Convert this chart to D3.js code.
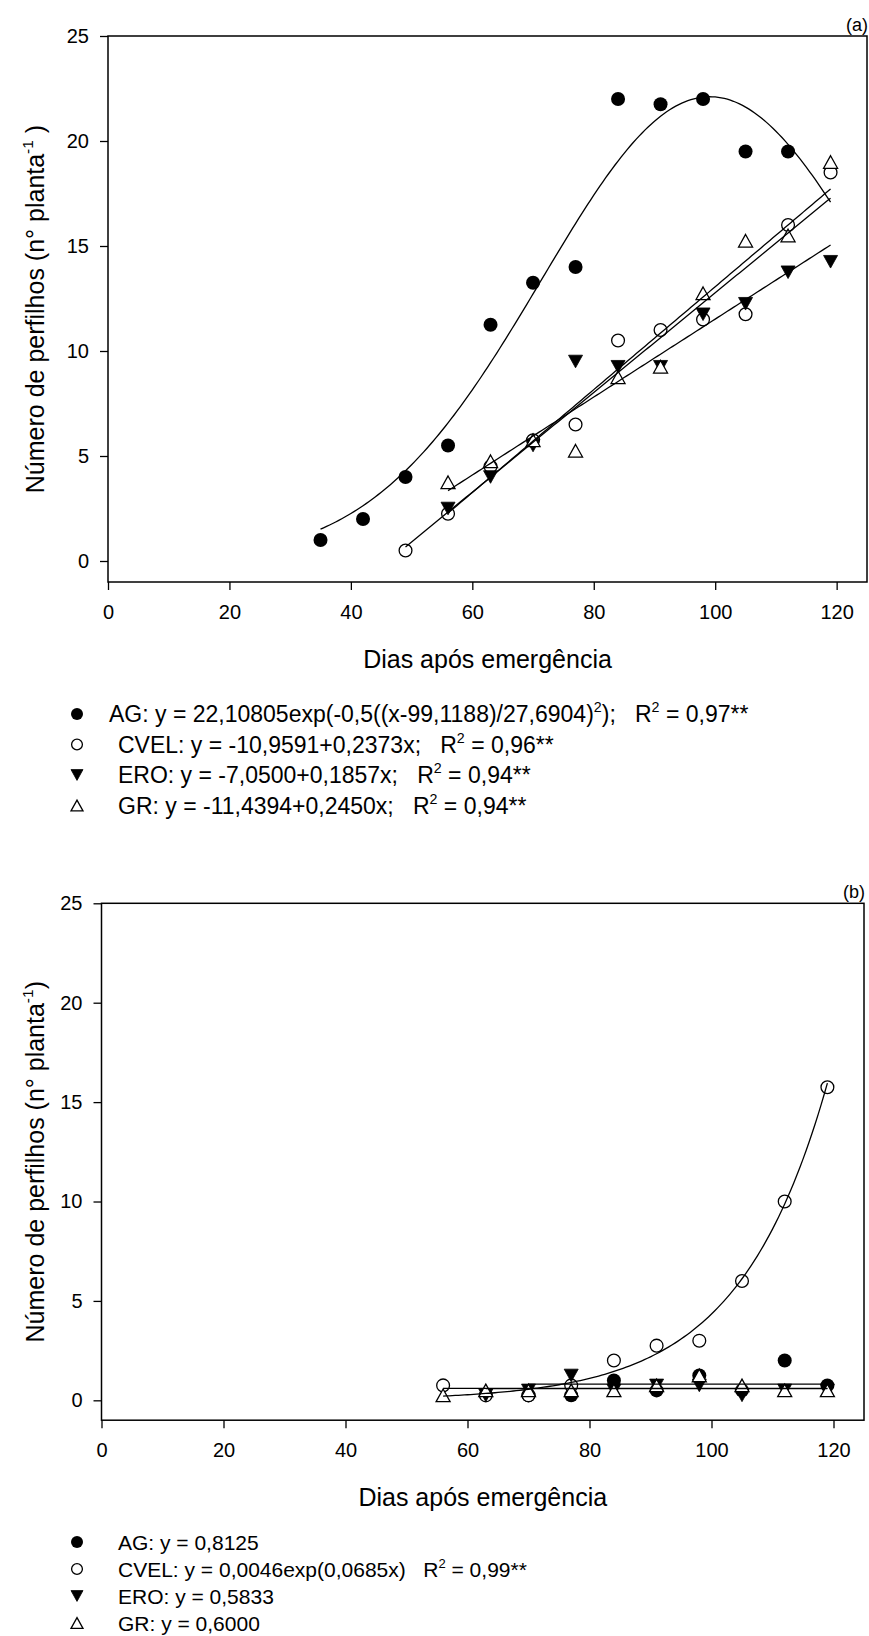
<!DOCTYPE html>
<html>
<head>
<meta charset="utf-8">
<script src="https://cdn.jsdelivr.net/npm/d3@7"></script>
<style>
  body { margin: 0; background: #fff; }
  svg { display: block; }
  text { font-family: "Liberation Sans", Arial, sans-serif; fill: #000; white-space: pre; }
</style>
</head>
<body>
<svg width="869" height="1636"></svg>
<script>
// ---- panel (a) data
var daysA = [35, 42, 49, 56, 63, 70, 77, 84, 91, 98, 105, 112, 119];
var agA   = [1, 2, 4, 5.5, 11.25, 13.25, 14, 22, 21.75, 22, 19.5, 19.5, null];
var cvelA = [null, null, 0.5, 2.25, 4.5, 5.75, 6.5, 10.5, 11, 11.5, 11.75, 16, 18.5];
var eroA  = [null, null, null, 2.5, 4, 5.5, 9.5, 9.25, 9.25, 11.75, 12.25, 13.75, 14.25];
var grA   = [null, null, null, 3.75, 4.75, 5.75, 5.25, 8.75, 9.25, 12.75, 15.25, 15.5, 19];

// ---- panel (b) data
var daysB = [56, 63, 70, 77, 84, 91, 98, 105, 112, 119];
var agB   = [null, null, 0.25, 0.25, 1, 0.5, 1.25, 0.5, 2, 0.75];
var cvelB = [0.75, 0.25, 0.25, 0.75, 2, 2.75, 3, 6, 10, 15.75];
var eroB  = [null, 0.25, 0.5, 1.25, 0.5, 0.75, 0.75, 0.25, 0.5, 0.5];
var grB   = [0.25, 0.5, 0.5, 0.5, 0.5, 0.75, 1.25, 0.75, 0.5, 0.5];

var xTicks = [0, 20, 40, 60, 80, 100, 120];
var yTicks = [0, 5, 10, 15, 20, 25];
var symbols = ["fc", "oc", "dt", "ut"]; // AG, CVEL, ERO, GR

// fitted equations, as printed in the legends
var fitsA = [
  { f: x => 22.10805 * Math.exp(-0.5 * Math.pow((x - 99.1188) / 27.6904, 2)), from: 35, to: 119 },
  { f: x => -10.9591 + 0.2373 * x, from: 49, to: 119 },
  { f: x => -7.05 + 0.1857 * x, from: 56, to: 119 },
  { f: x => -11.4394 + 0.2450 * x, from: 56, to: 119 }
];
var fitsB = [
  { f: x => 0.8125, from: 70, to: 119 },
  { f: x => 0.0046 * Math.exp(0.0685 * x), from: 56, to: 119 },
  { f: x => 0.5833, from: 63, to: 119 },
  { f: x => 0.6, from: 56, to: 119 }
];

// legend lines, "^" marks a superscript piece
var legendA = [
  ["AG: y = 22,10805exp(-0,5((x-99,1188)/27,6904)", "^2", ");   R", "^2", " = 0,97**"],
  ["CVEL: y = -10,9591+0,2373x;   R", "^2", " = 0,96**"],
  ["ERO: y = -7,0500+0,1857x;   R", "^2", " = 0,94**"],
  ["GR: y = -11,4394+0,2450x;   R", "^2", " = 0,94**"]
];
var legendB = [
  ["AG: y = 0,8125"],
  ["CVEL: y = 0,0046exp(0,0685x)   R", "^2", " = 0,99**"],
  ["ERO: y = 0,5833"],
  ["GR: y = 0,6000"]
];

var svg = d3.select("svg");

function drawMarker(g, type, cx, cy, s) {
  if (type == "fc" || type == "oc") {
    g.append("circle")
      .attr("cx", cx).attr("cy", cy).attr("r", type == "fc" ? s : s - 0.6)
      .attr("fill", type == "fc" ? "#000" : "#fff")
      .attr("stroke", "#000").attr("stroke-width", type == "fc" ? 0 : 1.3);
  } else {
    var w = s, h = s * 0.9;
    var pts = type == "ut"
      ? [[cx, cy - h], [cx + w, cy + h], [cx - w, cy + h]]
      : [[cx, cy + h], [cx + w, cy - h], [cx - w, cy - h]];
    g.append("path")
      .attr("d", "M" + pts.join("L") + "Z")
      .attr("fill", type == "dt" ? "#000" : "#fff")
      .attr("stroke", "#000").attr("stroke-width", type == "dt" ? 0.8 : 1.3)
      .attr("stroke-linejoin", "miter");
  }
}

// text with superscripts; raise is in px
function addPieces(t, pieces, raise) {
  var back = 0;
  pieces.forEach(p => {
    if (p[0] == "^") {
      t.append("tspan").attr("dy", -raise + back).attr("font-size", "0.62em").text(p.slice(1));
      back = raise;
    } else {
      t.append("tspan").attr("dy", back).text(p);
      back = 0;
    }
  });
}

function panel(o) {
  var x = d3.scaleLinear().domain([0, 125]).range([o.left, o.right]);
  var y = d3.scaleLinear().domain([-1, 25]).range([o.bottom, o.top]);
  var g = svg.append("g");

  g.append("rect")
    .attr("x", o.left).attr("y", o.top)
    .attr("width", o.right - o.left).attr("height", o.bottom - o.top)
    .attr("fill", "none").attr("stroke", "#000").attr("stroke-width", 1.5);

  var ax = g.append("g")
    .attr("transform", "translate(0," + o.bottom + ")")
    .call(d3.axisBottom(x).tickValues(xTicks).tickSize(8).tickPadding(15));
  var ay = g.append("g")
    .attr("transform", "translate(" + o.left + ",0)")
    .call(d3.axisLeft(y).tickValues(yTicks).tickSize(8).tickPadding(11));
  [ax, ay].forEach(a => {
    a.attr("font-size", 20).attr("font-family", null);
    a.select(".domain").remove();
    a.selectAll("line").attr("stroke-width", 1.3);
  });

  // points
  var pg = g.append("g");
  o.series.forEach((vals, i) => {
    vals.forEach((v, j) => {
      if (v == null) return;
      drawMarker(pg, symbols[i], x(o.days[j]), y(v), 7);
    });
  });

  // fitted curves on top
  var line = d3.line().x(d => x(d[0])).y(d => y(d[1]));
  o.fits.forEach(ft => {
    var pts = d3.range(ft.from, ft.to + 0.001, 0.5).map(d => [d, ft.f(d)]);
    g.append("path").attr("d", line(pts))
      .attr("fill", "none").attr("stroke", "#000").attr("stroke-width", 1.3);
  });

  // axis titles
  g.append("text")
    .attr("x", (o.left + o.right) / 2).attr("y", o.bottom + 86)
    .attr("text-anchor", "middle").attr("font-size", 25)
    .text("Dias após emergência");
  var yt = g.append("text")
    .attr("transform", "translate(44," + (o.top + o.bottom) / 2 + ") rotate(-90)")
    .attr("text-anchor", "middle").attr("font-size", 25);
  addPieces(yt, ["Número de perfilhos (n° planta", "^-1", o.yClose], 11);

  g.append("text")
    .attr("x", o.right + 1).attr("y", o.top - 5)
    .attr("text-anchor", "end").attr("font-size", 18)
    .text(o.tag);

  // legend
  o.legend.forEach((pieces, i) => {
    var by = o.legendY + i * o.legendStep;
    drawMarker(g, symbols[i], 77, by - 8, 6);
    var t = g.append("text")
      .attr("x", i == 0 ? o.legendX0 : 118).attr("y", by)
      .attr("font-size", o.legendFont);
    addPieces(t, pieces, o.legendFont * 0.42);
  });
}

panel({
  tag: "(a)", left: 108, right: 867, top: 36, bottom: 582, yClose: " )",
  days: daysA, series: [agA, cvelA, eroA, grA], fits: fitsA,
  legend: legendA, legendY: 722, legendStep: 30.5, legendX0: 109, legendFont: 23
});

panel({
  tag: "(b)", left: 101.5, right: 864, top: 903.3, bottom: 1420.2, yClose: ")",
  days: daysB, series: [agB, cvelB, eroB, grB], fits: fitsB,
  legend: legendB, legendY: 1550, legendStep: 27, legendX0: 118, legendFont: 21
});
</script>
</body>
</html>
